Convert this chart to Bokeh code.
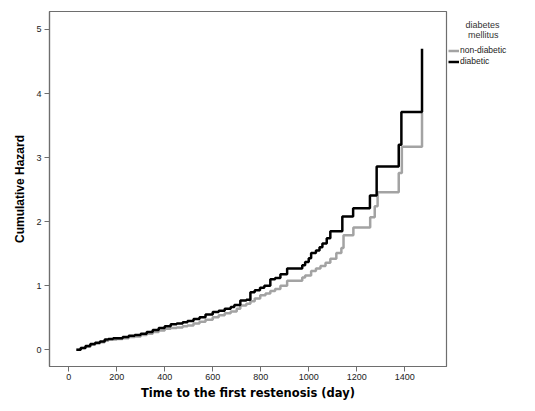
from bokeh.plotting import figure
from bokeh.models import Range1d, FixedTicker, Legend, LegendItem
from bokeh.embed import file_html
from bokeh.resources import INLINE

# Event times (days) and cumulative hazard
t_nondiab = [32, 50, 70, 90, 110, 130, 150, 165, 185, 200, 225, 250, 275, 300, 325, 350, 375, 400,
             425, 450, 475, 495, 520, 545, 570, 600, 625, 650, 675, 700, 715, 740, 757, 775, 798,
             820, 840, 860, 882, 910, 973, 985, 1010, 1030, 1049, 1070, 1090, 1115, 1136, 1145,
             1186, 1256, 1275, 1287, 1375, 1388, 1472]
h_nondiab = [0.00, 0.03, 0.05, 0.08, 0.10, 0.12, 0.14, 0.16, 0.16, 0.17, 0.18, 0.20, 0.21, 0.23,
             0.25, 0.28, 0.30, 0.33, 0.34, 0.35, 0.37, 0.38, 0.41, 0.44, 0.47, 0.51, 0.54, 0.57,
             0.60, 0.64, 0.69, 0.72, 0.76, 0.80, 0.85, 0.88, 0.92, 0.95, 1.00, 1.08, 1.13, 1.16,
             1.23, 1.27, 1.31, 1.36, 1.42, 1.51, 1.59, 1.79, 1.91, 2.07, 2.24, 2.46, 2.76, 3.17, 3.70]

t_diab = [32, 50, 70, 90, 110, 130, 150, 165, 185, 200, 225, 250, 275, 300, 325, 350, 375, 400,
          425, 450, 475, 495, 520, 545, 570, 600, 625, 650, 675, 690, 715, 740, 757, 775, 797,
          815, 840, 860, 882, 910, 973, 985, 1000, 1010, 1030, 1045, 1057, 1075, 1090, 1140,
          1185, 1255, 1283, 1375, 1386, 1472]
h_diab = [0.00, 0.03, 0.06, 0.09, 0.11, 0.13, 0.16, 0.17, 0.18, 0.18, 0.20, 0.22, 0.23, 0.25,
          0.28, 0.31, 0.34, 0.37, 0.40, 0.41, 0.43, 0.45, 0.48, 0.51, 0.55, 0.59, 0.61, 0.64,
          0.67, 0.70, 0.77, 0.78, 0.90, 0.93, 0.97, 1.00, 1.10, 1.12, 1.18, 1.27, 1.32, 1.37,
          1.43, 1.51, 1.55, 1.60, 1.66, 1.74, 1.85, 2.08, 2.21, 2.41, 2.86, 3.20, 3.71, 4.70]

x_ticks = [0, 200, 400, 600, 800, 1000, 1200, 1400]
y_ticks = [0, 1, 2, 3, 4, 5]
legend_title = "\u00a0" * 7 + "diabetes\n" + "\u00a0" * 8 + "mellitus"
series_names = ["non-diabetic", "diabetic"]

p = figure(width=519, height=395, output_backend="svg", toolbar_location=None,
           x_range=Range1d(-80, 1574), y_range=Range1d(-0.26, 5.28),
           min_border_left=49, min_border_top=11, min_border_right=73, min_border_bottom=29)
p.frame_width = 397
p.frame_height = 355

p.grid.visible = False
p.background_fill_color = "white"
p.outline_line_color = "#6e6e6e"
p.outline_line_width = 1.2

for ax in (p.xaxis[0], p.yaxis[0]):
    ax.axis_line_color = "#6e6e6e"
    ax.axis_line_width = 1.2
    ax.major_tick_line_color = "#6e6e6e"
    ax.major_tick_out = 5
    ax.major_tick_in = 0
    ax.minor_tick_line_color = None
    ax.major_label_text_font = "Liberation Sans"
    ax.major_label_text_font_size = "9px"
    ax.major_label_text_color = "#222222"

p.xaxis.ticker = FixedTicker(ticks=x_ticks)
p.yaxis.ticker = FixedTicker(ticks=y_ticks)
p.xaxis.major_label_standoff = 2
p.yaxis.major_label_standoff = 3

p.xaxis.axis_label = "Time to the first restenosis (day)"
p.xaxis.axis_label_text_font = "DejaVu Sans"
p.xaxis.axis_label_text_font_style = "bold"
p.xaxis.axis_label_text_font_size = "11.5px"
p.xaxis.axis_label_standoff = 3
p.xaxis.axis_label_text_color = "black"

p.yaxis.axis_label = "Cumulative Hazard"
p.yaxis.axis_label_text_font = "Liberation Sans"
p.yaxis.axis_label_text_font_style = "bold"
p.yaxis.axis_label_text_font_size = "12px"
p.yaxis.axis_label_standoff = 6
p.yaxis.axis_label_text_color = "black"

r_nd = p.step(t_nondiab, h_nondiab, mode="after", line_color="#a3a3a3", line_width=2.5)
r_d = p.step(t_diab, h_diab, mode="after", line_color="black", line_width=2.5)

legend = Legend(items=[LegendItem(label=series_names[0], renderers=[r_nd]),
                       LegendItem(label=series_names[1], renderers=[r_d])],
                location=(2, 300), background_fill_alpha=0, border_line_color=None,
                title=legend_title, title_text_font="Liberation Sans",
                title_text_font_size="9px", title_text_font_style="normal",
                title_text_color="#333333", title_standoff=5,
                label_text_font="Liberation Sans", label_text_font_size="8.5px",
                label_text_color="#222222",
                glyph_width=11, glyph_height=9, label_standoff=1, spacing=1,
                padding=0, margin=0, label_height=9)
p.add_layout(legend, "right")

open("out.html", "w").write(file_html(p, INLINE))
